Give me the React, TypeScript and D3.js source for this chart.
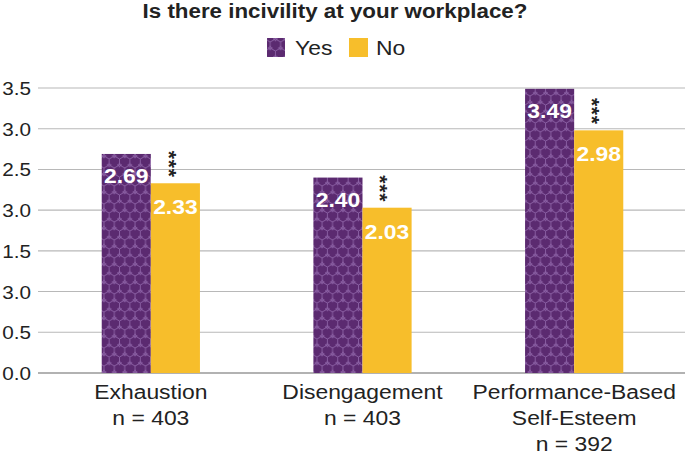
import React from "react";
import * as d3 from "d3";

const categories = ["Exhaustion", "Disengagement", "Performance-Based"];
const categoryLines = [
  ["Exhaustion", "n = 403"],
  ["Disengagement", "n = 403"],
  ["Performance-Based", "Self-Esteem", "n = 392"],
];
const yesValues = [2.69, 2.4, 3.49];
const noValues = [2.33, 2.03, 2.98];
const yesLabels = ["2.69", "2.40", "3.49"];
const noLabels = ["2.33", "2.03", "2.98"];
const tickValues = [0, 0.5, 1, 1.5, 2, 2.5, 3, 3.5];
const tickLabels = ["0.0", "0.5", "3.0", "1.5", "3.0", "2.5", "3.0", "3.5"];
const seriesNames = ["Yes", "No"];
const sigMarks = ["***", "***", "***"];

const W = 685;
const H = 456;
const PURPLE = "#5b2a70";
const PURPLE_LINE = "#8c62a6";
const YELLOW = "#f7be2b";
const FONT = "'Liberation Sans', Arial, sans-serif";
const SX = 1.09;

function T(props: {
  x: number;
  y: number;
  size: number;
  anchor?: string;
  bold?: boolean;
  fill?: string;
  children: React.ReactNode;
}) {
  const { x, y, size, anchor = "start", bold = false, fill = "#222", children } = props;
  return (
    <text
      transform={`translate(${x},${y}) scale(${SX},1)`}
      textAnchor={anchor}
      fontFamily={FONT}
      fontWeight={bold ? "bold" : "normal"}
      fontSize={size}
      fill={fill}
    >
      {children}
    </text>
  );
}

export default function App() {
  const x = d3.scaleBand<string>().domain(categories).range([45, 680]).padding(0);
  const y = d3.scaleLinear().domain([0, 3.5]).range([373, 88]);
  const barW = x.bandwidth() * 0.232;

  const r = 6;
  const hw = Math.sqrt(3) * r;
  const ph = 3 * r;
  const hexPath = [
    `M${hw / 2},0 L${hw / 2},${0.5 * r}`,
    `M${hw / 2},${0.5 * r} L${hw},${r} L${hw},${2 * r} L${hw / 2},${2.5 * r} L0,${2 * r} L0,${r} Z`,
    `M${hw / 2},${2.5 * r} L${hw / 2},${3 * r}`,
  ].join(" ");
  const star = (cx: number, cy: number, s: number) =>
    `M${cx},${cy - s} L${cx + s * 0.3},${cy - s * 0.3} L${cx + s},${cy} L${cx + s * 0.3},${cy + s * 0.3} L${cx},${cy + s} L${cx - s * 0.3},${cy + s * 0.3} L${cx - s},${cy} L${cx - s * 0.3},${cy - s * 0.3} Z`;

  return (
    <svg width={W} height={H} style={{ position: "absolute", left: 0, top: 0, background: "#fff" }}>
      <defs>
        <pattern id="hex" patternUnits="userSpaceOnUse" width={hw} height={ph}>
          <rect width={hw} height={ph} fill={PURPLE} />
          <path d={hexPath} fill="none" stroke={PURPLE_LINE} strokeWidth={0.9} />
          <path d={star(hw / 2, 0.5 * r, 2.2)} fill="none" stroke={PURPLE_LINE} strokeWidth={0.8} />
          <path d={star(0, 2 * r, 2.2)} fill="none" stroke={PURPLE_LINE} strokeWidth={0.8} />
          <path d={star(hw, 2 * r, 2.2)} fill="none" stroke={PURPLE_LINE} strokeWidth={0.8} />
        </pattern>
      </defs>

      <T x={335} y={18} size={20.5} anchor="middle" bold>
        Is there incivility at your workplace?
      </T>

      {/* legend */}
      <rect x={267} y={38} width={18} height={19} fill="url(#hex)" />
      <T x={295} y={55} size={21}>{seriesNames[0]}</T>
      <rect x={349} y={38} width={19} height={19} fill={YELLOW} />
      <T x={376} y={55} size={21}>{seriesNames[1]}</T>

      {/* grid + ticks */}
      {tickValues.map((t, i) => (
        <g key={i}>
          <line x1={38} x2={W} y1={y(t)} y2={y(t)} stroke={i === 0 ? "#999" : "#b8b8b8"} strokeWidth={i === 0 ? 1.5 : 1.1} />
          <T x={31} y={y(t) + 7} size={19} anchor="end">
            {tickLabels[i]}
          </T>
        </g>
      ))}

      {/* bars */}
      {categories.map((c, i) => {
        const cx = (x(c) as number) + x.bandwidth() / 2;
        const yTop = y(yesValues[i]);
        const nTop = y(noValues[i]);
        const sx = cx + barW / 2 - 1.5 - 4.8;
        return (
          <g key={c}>
            <rect x={cx - barW} y={yTop} width={barW} height={y(0) - yTop} fill="url(#hex)" />
            <rect x={cx} y={nTop} width={barW} height={y(0) - nTop} fill={YELLOW} />
            <T x={cx - barW / 2} y={yTop + 29} size={21} anchor="middle" bold fill="#fff">
              {yesLabels[i]}
            </T>
            <T x={cx + barW / 2} y={nTop + 31} size={21} anchor="middle" bold fill="#fff">
              {noLabels[i]}
            </T>
            <text
              transform={`translate(${sx},${nTop - 19}) rotate(90)`}
              textAnchor="middle"
              dominantBaseline="central"
              fontFamily={FONT}
              fontWeight="bold"
              fontSize={21}
              letterSpacing={0.8}
              fill="#222"
            >
              {sigMarks[i]}
            </text>
            {categoryLines[i].map((line, k) => (
              <T key={k} x={cx} y={399 + k * 26} size={21} anchor="middle">
                {line}
              </T>
            ))}
          </g>
        );
      })}
    </svg>
  );
}
